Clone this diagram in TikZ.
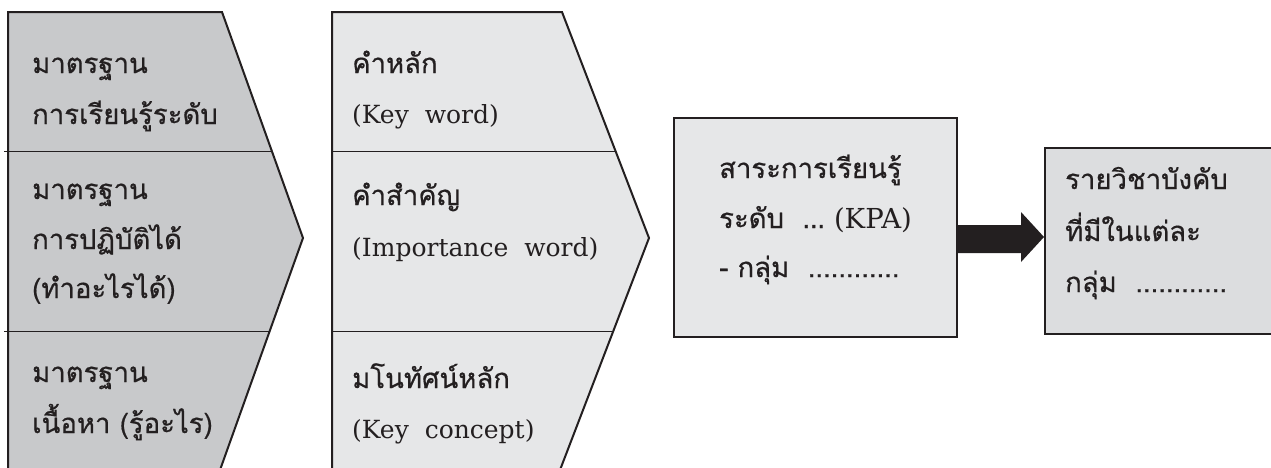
\documentclass[tikz,border=0pt]{standalone}
\usepackage{fontspec}
\newfontfamily\thai[Script=Thai,FakeBold=0.6]{Loma}
\newfontfamily\latin{DejaVu Serif}
\definecolor{darkfill}{HTML}{C8C9CB}
\definecolor{lightfill}{HTML}{E6E7E8}
\definecolor{boxfill}{HTML}{DCDDDF}
\definecolor{ink}{HTML}{231F20}
\begin{document}
\begin{tikzpicture}[x=1pt,y=-1pt,
  outline/.style={draw=ink,line width=2pt,line join=miter},
  sepline/.style={draw=ink,line width=1pt},
  th/.style={anchor=base west,inner sep=0pt,font=\thai\fontsize{27.5}{30}\selectfont,text=ink},
  la/.style={anchor=base west,inner sep=0pt,font=\latin\fontsize{25}{28}\selectfont,text=ink}]
\useasboundingbox (0,0) rectangle (1271,467);
\begin{scope}
\clip (0,0) rectangle (1271,467);
% left chevron
\path[outline,fill=darkfill] (8,12) -- (222,12) -- (303,238) -- (220,470) -- (8,470) -- cycle;
\draw[sepline] (4,151) -- (272.5,151);
\draw[sepline] (4,331) -- (268.5,331);
% middle chevron
\path[outline,fill=lightfill] (332,12) -- (562,12) -- (649,238) -- (560,470) -- (332,470) -- cycle;
\draw[sepline] (332,151) -- (615.5,151);
\draw[sepline] (332,331) -- (612,331);
% KPA box
\node[outline,fill=lightfill,minimum width=283pt,minimum height=219pt,inner sep=0pt,anchor=north west] (kpa) at (673,117) {};
% box 2
\node[outline,fill=boxfill,minimum width=240pt,minimum height=186pt,inner sep=0pt,anchor=north west] (subj) at (1044,147) {};
% arrow
\fill[ink] (kpa.east |- 0,225) -- (1021,225) -- (1021,212) -- (subj.west |- 0,237) -- (1021,262) -- (1021,253) -- (kpa.east |- 0,253) -- cycle;
\end{scope}
% left texts
\node[th] (l1) at (32,73) {มาตรฐาน};
\node[th] (l2) at (32,124) {การเรียนรู้ระดับ};
\node[th] (l3) at (32,199) {มาตรฐาน};
\node[th] (l4) at (32,249) {การปฏิบัติได้};
\node[th] (l5) at (32,298) {(ทำอะไรได้)};
\node[th] (l6) at (32,382) {มาตรฐาน};
\node[th] (l7) at (32,433) {เนื้อหา (รู้อะไร)};
% middle texts
\node[th] (m1) at (352,73) {คำหลัก};
\node[la] (m2) at (352,123) {(Key\ \ word)};
\node[th] (m3) at (352,205) {คำสำคัญ};
\node[la] (m4) at (352,256) {(Importance\ \ word)};
\node[th] (m5) at (352,388) {มโนทัศน์หลัก};
\node[la] (m6) at (352,438) {(Key\ \ concept)};
% KPA texts
\node[th] (k1) at (719,178) {สาระการเรียนรู้};
\node[th] (k2) at (719,228) {ระดับ \ \ldots\ {\latin (KPA)}};
\node[th] (k3) at (719,277) {- กลุ่ม \ ............};
% box2 texts
\node[th] (s1) at (1065,189) {รายวิชาบังคับ};
\node[th] (s2) at (1065,241) {ที่มีในแต่ละ};
\node[th] (s3) at (1065,292) {กลุ่ม \ ............};
\end{tikzpicture}
\end{document}
